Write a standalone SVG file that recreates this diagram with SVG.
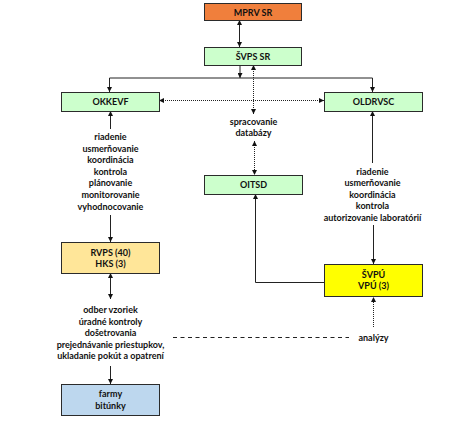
<svg xmlns="http://www.w3.org/2000/svg" width="474" height="421" viewBox="0 0 474 421">
<style>
  .box { stroke: #2b2b2b; stroke-width: 1; }
  .green { fill: #CCFFCC; }
  .orange { fill: #F07F3C; }
  .sand { fill: #FFE699; }
  .yellow { fill: #FFFF00; }
  .blue { fill: #BDD7EE; }
  text { font-family: Lato, "Liberation Sans", sans-serif; font-weight: bold; font-size: 9px; fill: #111; text-anchor: middle; }
  .ln { stroke: #222; stroke-width: 1; fill: none; }
  .dot { stroke: #222; stroke-width: 1; fill: none; stroke-dasharray: 1 1; }
  .dash { stroke: #222; stroke-width: 1; fill: none; stroke-dasharray: 4 3.5; }
</style>
<defs>
  <marker id="ah" viewBox="0 0 10 10" refX="10" refY="5" markerWidth="5" markerHeight="5" markerUnits="userSpaceOnUse" orient="auto-start-reverse">
    <path d="M0,0 L10,5 L0,10 Z" fill="#111"/>
  </marker>
</defs>
<rect width="474" height="421" fill="#ffffff"/>

<g id="connectors">
  <line class="ln" x1="239.5" y1="20" x2="239.5" y2="47" marker-start="url(#ah)" marker-end="url(#ah)"/>
  <line class="ln" x1="240" y1="65" x2="240" y2="78" marker-end="url(#ah)"/>
  <line class="ln" x1="109.5" y1="78" x2="372.5" y2="78"/>
  <line class="ln" x1="109.5" y1="78" x2="109.5" y2="92" marker-end="url(#ah)"/>
  <line class="ln" x1="372.5" y1="78" x2="372.5" y2="92" marker-end="url(#ah)"/>
  <line class="dot" x1="253.5" y1="65" x2="253.5" y2="114" marker-start="url(#ah)" marker-end="url(#ah)"/>
  <line class="dot" x1="159" y1="100.5" x2="324" y2="100.5" marker-start="url(#ah)" marker-end="url(#ah)"/>
  <line class="dot" x1="254.5" y1="141" x2="254.5" y2="175" marker-start="url(#ah)" marker-end="url(#ah)"/>
  <line class="ln" x1="110.5" y1="129" x2="110.5" y2="111" marker-end="url(#ah)"/>
  <line class="ln" x1="110.5" y1="215" x2="110.5" y2="242" marker-end="url(#ah)"/>
  <line class="ln" x1="110.5" y1="273" x2="110.5" y2="299" marker-start="url(#ah)" marker-end="url(#ah)"/>
  <line class="ln" x1="110.5" y1="366" x2="110.5" y2="384" marker-end="url(#ah)"/>
  <line class="ln" x1="372.5" y1="163" x2="372.5" y2="111" marker-end="url(#ah)"/>
  <line class="ln" x1="373.5" y1="225" x2="373.5" y2="264" marker-end="url(#ah)"/>
  <polyline class="ln" points="324,282.5 255.5,282.5 255.5,194" marker-end="url(#ah)"/>
  <line class="dot" x1="373.5" y1="327" x2="373.5" y2="297" marker-end="url(#ah)"/>
  <line class="dash" x1="173" y1="337.5" x2="349" y2="337.5"/>
</g>

<g id="mprv-sr">
  <rect class="box orange" x="204.5" y="3.5" width="97" height="17"/>
  <text x="253" y="15.5">MPRV SR</text>
</g>
<g id="svps-sr">
  <rect class="box green" x="204.5" y="47.5" width="97" height="18"/>
  <text x="253" y="60">ŠVPS SR</text>
</g>
<g id="okkevf">
  <rect class="box green" x="61.5" y="92.5" width="98" height="19"/>
  <text x="110.5" y="105">OKKEVF</text>
</g>
<g id="oldrvsc">
  <rect class="box green" x="324.5" y="92.5" width="98" height="19"/>
  <text x="373.5" y="105">OLDRVSC</text>
</g>
<g id="oitsd">
  <rect class="box green" x="204.5" y="175.5" width="98" height="19"/>
  <text x="253.5" y="188">OITSD</text>
</g>
<g id="rvps">
  <rect class="box sand" x="61.5" y="242.5" width="98" height="31"/>
  <text x="110.5" y="255.5">RVPS (40)</text>
  <text x="110.5" y="266.5">HKS (3)</text>
</g>
<g id="svpu">
  <rect class="box yellow" x="324.5" y="264.5" width="98" height="32"/>
  <text x="373.5" y="277.5">ŠVPÚ</text>
  <text x="373.5" y="289">VPÚ (3)</text>
</g>
<g id="farmy">
  <rect class="box blue" x="61.5" y="384.5" width="98" height="31"/>
  <text x="110.5" y="397">farmy</text>
  <text x="110.5" y="408.5">bitúnky</text>
</g>

<g id="label-databazy">
  <text x="253.5" y="124.5">spracovanie</text>
  <text x="253.5" y="136">databázy</text>
</g>
<g id="label-okkevf">
  <text x="110.5" y="140">riadenie</text>
  <text x="110.5" y="151.5">usmerňovanie</text>
  <text x="110.5" y="163">koordinácia</text>
  <text x="110.5" y="174.5">kontrola</text>
  <text x="110.5" y="186">plánovanie</text>
  <text x="110.5" y="198">monitorovanie</text>
  <text x="110.5" y="209.5">vyhodnocovanie</text>
</g>
<g id="label-oldrvsc">
  <text x="372.5" y="174.5">riadenie</text>
  <text x="372.5" y="186">usmerňovanie</text>
  <text x="372.5" y="197.5">koordinácia</text>
  <text x="372.5" y="209">kontrola</text>
  <text x="372.5" y="220.5">autorizovanie laboratórií</text>
</g>
<g id="label-rvps">
  <text x="110.5" y="313">odber vzoriek</text>
  <text x="110.5" y="324.5">úradné kontroly</text>
  <text x="110.5" y="336">došetrovania</text>
  <text x="110.5" y="347.5">prejednávanie priestupkov,</text>
  <text x="110.5" y="359">ukladanie pokút a opatrení</text>
</g>
<g id="label-analyzy">
  <text x="373.5" y="340.5">analýzy</text>
</g>
</svg>
